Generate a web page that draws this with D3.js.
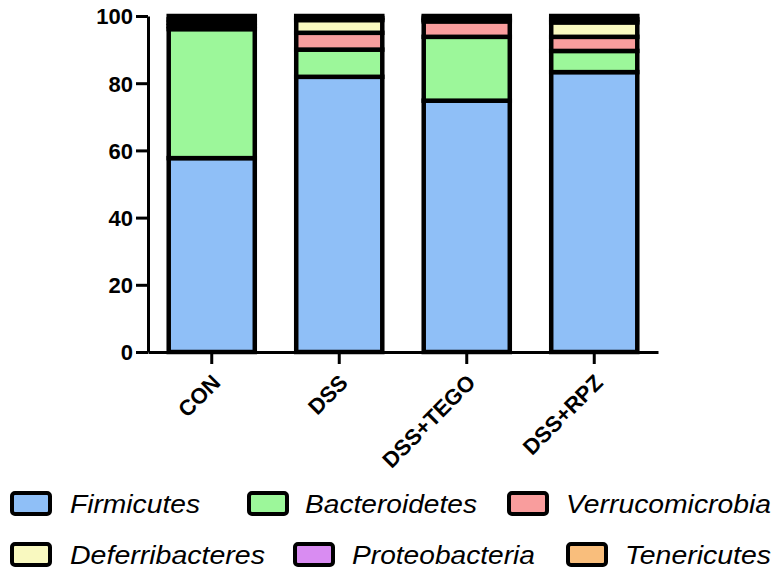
<!DOCTYPE html>
<html><head><meta charset="utf-8">
<script src="https://cdn.jsdelivr.net/npm/d3@7"></script>
<style>body{margin:0;background:#fff}svg{display:block}</style>
</head><body>
<script>
const categories = ["CON", "DSS", "DSS+TEGO", "DSS+RPZ"];
const phyla = ["Firmicutes", "Bacteroidetes", "Verrucomicrobia", "Deferribacteres", "Proteobacteria", "Tenericutes"];
const colors = ["#8FBFF7", "#9CF79A", "#F99D9D", "#F9F9C0", "#D98CF2", "#F9BE7C"];
const firmicutes      = [57.7, 81.9, 74.8, 83.3];
const bacteroidetes   = [38.4,  8.1, 19.0,  6.3];
const verrucomicrobia = [ 0.9,  5.0,  4.6,  4.2];
const deferribacteres = [ 1.0,  3.8,  0.5,  4.3];
const proteobacteria  = [ 1.0,  0.6,  0.6,  0.9];
const tenericutes     = [ 1.0,  0.6,  0.5,  1.0];
const yTicks = [0, 20, 40, 60, 80, 100];

const series = [firmicutes, bacteroidetes, verrucomicrobia, deferribacteres, proteobacteria, tenericutes];
const rows = categories.map((c, i) => {
  const r = {cat: c};
  phyla.forEach((p, j) => r[p] = series[j][i]);
  return r;
});

const W = 775, H = 573;
const svg = d3.select("body").append("svg").attr("width", W).attr("height", H);

const x = d3.scaleBand().domain(categories).range([148, 658]).paddingInner(0.325).paddingOuter(0.1625);
const y = d3.scaleLinear().domain([0, 100]).range([352, 16]);

const stack = d3.stack().keys(phyla)(rows);
const color = d3.scaleOrdinal().domain(phyla).range(colors);

svg.append("g").selectAll("g").data(stack).join("g")
  .attr("fill", d => color(d.key))
  .selectAll("rect").data(d => d).join("rect")
  .attr("x", d => x(d.data.cat))
  .attr("width", x.bandwidth())
  .attr("y", d => y(d[1]))
  .attr("height", d => y(d[0]) - y(d[1]))
  .attr("stroke", "#000").attr("stroke-width", 4.5);

// Y axis
const yAxis = svg.append("g").attr("transform", "translate(148,0)")
  .call(d3.axisLeft(y).tickValues(yTicks).tickSize(12).tickSizeOuter(0).tickPadding(3));
yAxis.select(".domain").attr("stroke-width", 3).attr("stroke", "#000");
yAxis.selectAll(".tick line").attr("stroke-width", 3).attr("stroke", "#000");
yAxis.selectAll(".tick text").attr("font-family", "Liberation Sans, Arial, sans-serif")
  .attr("font-weight", "bold").attr("font-size", 22).attr("fill", "#000").attr("dy", "0.36em");

// X axis
const xAxis = svg.append("g").attr("transform", "translate(0,352)")
  .call(d3.axisBottom(x).tickSize(12).tickSizeOuter(0).tickPadding(4));
xAxis.select(".domain").attr("stroke-width", 3).attr("stroke", "#000");
xAxis.selectAll(".tick line").attr("stroke-width", 3).attr("stroke", "#000");
xAxis.selectAll(".tick text")
  .attr("font-family", "Liberation Sans, Arial, sans-serif")
  .attr("font-weight", "bold").attr("font-size", 22).attr("fill", "#000")
  .attr("text-anchor", "end").attr("dy", null).attr("y", 0)
  .attr("transform", "translate(10,32) rotate(-45)");

// Legend
const legendPos = [
  {sx: 10, tx: 70, ty: 491, tl: 130},
  {sx: 247, tx: 305, ty: 491, tl: 172},
  {sx: 507, tx: 566, ty: 491, tl: 205},
  {sx: 10, tx: 70, ty: 542, tl: 195},
  {sx: 293, tx: 352, ty: 542, tl: 183},
  {sx: 566, tx: 625, ty: 542, tl: 146}
];
const lg = svg.append("g");
phyla.forEach((p, i) => {
  const L = legendPos[i];
  lg.append("rect").attr("x", L.sx + 2).attr("y", L.ty + 2).attr("width", 38).attr("height", 21)
    .attr("rx", 3).attr("fill", colors[i]).attr("stroke", "#000").attr("stroke-width", 4);
  lg.append("text").attr("x", L.tx).attr("y", L.ty + 22)
    .attr("font-family", "Liberation Sans, Arial, sans-serif").attr("font-style", "italic")
    .attr("font-size", 25).attr("fill", "#000")
    .attr("textLength", L.tl).attr("lengthAdjust", "spacingAndGlyphs")
    .text(p);
});
</script>
</body></html>
